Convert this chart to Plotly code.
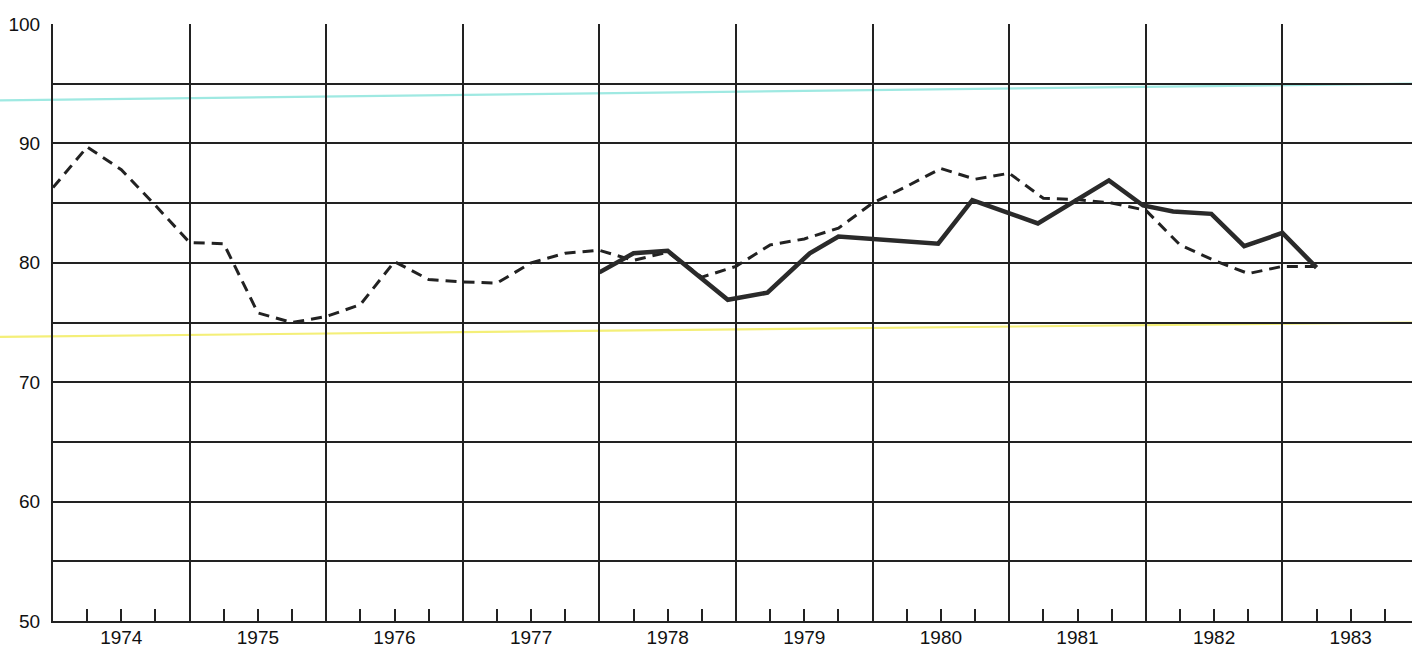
import plotly.graph_objects as go

# ---- data ----
years = [1974, 1975, 1976, 1977, 1978, 1979, 1980, 1981, 1982, 1983]
year_labels = [str(y) for y in years]

# dashed series, quarterly from 1974.00
dashed_x = [1974 + 0.25 * k for k in range(38)]
dashed_y = [86.3, 89.7, 87.8, 84.8, 81.7, 81.6, 75.8, 75.0, 75.5, 76.5,
            80.1, 78.6, 78.4, 78.3, 80.0, 80.8, 81.05, 80.2, 80.9, 78.8,
            79.7, 81.5, 82.0, 82.9, 85.0, 86.4, 87.9, 87.0, 87.5, 85.4,
            85.3, 85.0, 84.4, 81.5, 80.2, 79.1, 79.7, 79.7]

# solid series
solid_x = [1978.0, 1978.25, 1978.5, 1978.94, 1979.23, 1979.54, 1979.75,
           1980.0, 1980.48, 1980.73, 1981.21, 1981.73, 1981.98, 1982.2,
           1982.48, 1982.72, 1983.0, 1983.25]
solid_y = [79.2, 80.8, 81.0, 76.9, 77.5, 80.8, 82.2,
           82.0, 81.6, 85.25, 83.3, 86.9, 84.8, 84.3,
           84.1, 81.4, 82.5, 79.6]

# faint coloured reference lines (value at left page edge, value at right edge)
cyan_line = [93.6, 95.0]
yellow_line = [73.8, 75.0]

y_ticks = [50, 55, 60, 65, 70, 75, 80, 85, 90, 95, 100]
y_ticktext = [str(v) if v % 10 == 0 else "" for v in y_ticks]

# ---- figure ----
W, H = 1412, 650
ML, MR, MT, MB = 53, 0, 24, 29
year_px = 136.6
x_end = 1974 + (W - ML - MR) / year_px

fig = go.Figure()

fig.add_trace(go.Scatter(
    x=dashed_x, y=dashed_y, mode="lines",
    line=dict(color="#222222", width=3, dash="11px,7px"),
    showlegend=False, hoverinfo="skip"))
fig.add_trace(go.Scatter(
    x=solid_x, y=solid_y, mode="lines",
    line=dict(color="#2a2a2a", width=4.5),
    showlegend=False, hoverinfo="skip"))

# invisible trace to activate the year-label axis
fig.add_trace(go.Scatter(
    x=[years[0], years[-1]], y=[50, 50], xaxis="x2", mode="markers",
    marker=dict(opacity=0), showlegend=False, hoverinfo="skip"))

x_left_paper = -ML / (W - ML - MR)
for vals, col in [(cyan_line, "#9fe9e2"), (yellow_line, "#f4ef78")]:
    fig.add_shape(type="line", xref="paper", yref="y",
                  x0=x_left_paper, x1=1, y0=vals[0], y1=vals[1],
                  line=dict(color=col, width=2.2), layer="below")

fig.update_layout(
    width=W, height=H,
    margin=dict(l=ML, r=MR, t=MT, b=MB, autoexpand=False),
    paper_bgcolor="white", plot_bgcolor="white",
    font=dict(family="Liberation Sans, Arial, sans-serif", size=19, color="#111111"),
    xaxis=dict(
        range=[1974, x_end], tick0=1974, dtick=1, automargin=False,
        showgrid=True, gridcolor="#222222", gridwidth=1.5,
        showticklabels=False, ticks="", zeroline=False,
        showline=True, linecolor="#222222", linewidth=2,
        minor=dict(tick0=1974, dtick=0.25, ticks="inside", ticklen=12,
                   tickcolor="#222222", tickwidth=1.6, showgrid=False),
    ),
    xaxis2=dict(
        overlaying="x", anchor="y", side="bottom", automargin=False,
        range=[1974, x_end],
        tickvals=[y + 0.5 for y in years], ticktext=year_labels,
        showgrid=False, ticks="", zeroline=False, showline=False,
        ticklabelstandoff=3,
        tickfont=dict(size=19, color="#111111"),
    ),
    yaxis=dict(
        range=[50, 100], tickvals=y_ticks, ticktext=y_ticktext,
        showgrid=True, gridcolor="#222222", gridwidth=1.5, automargin=False,
        ticks="", zeroline=False,
        showline=True, linecolor="#222222", linewidth=2,
        ticklabelstandoff=7,
        tickfont=dict(size=19, color="#111111"),
    ),
)

fig.write_html("out.html",
               config={"displayModeBar": False, "responsive": False},
               post_script="document.body.style.margin='0';document.body.style.overflow='hidden';")
